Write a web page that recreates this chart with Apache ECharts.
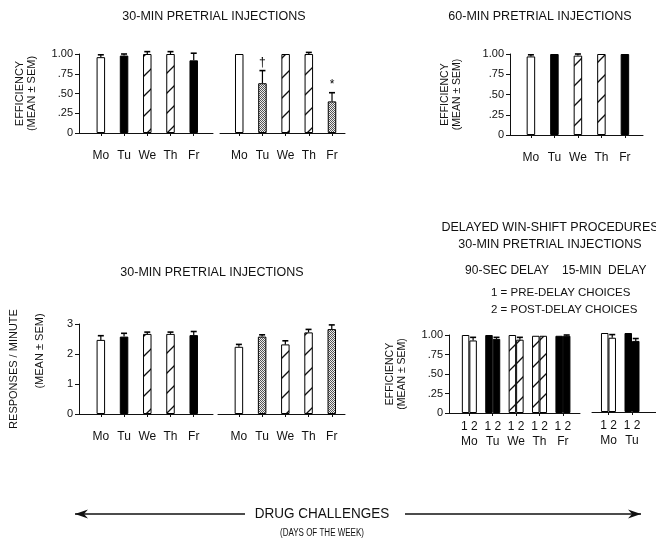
<!DOCTYPE html>
<html><head><meta charset="utf-8">
<script src="https://cdn.jsdelivr.net/npm/echarts@6/dist/echarts.min.js"></script>
<style>html,body{margin:0;padding:0;background:#fff}#c{width:656px;height:543px}</style>
</head><body><div id="c"></div>
<script>
// ---------- data ----------
const days = ['Mo', 'Tu', 'We', 'Th', 'Fr'];
const delayDays = ['Mo', 'Tu'];
const effTickLabels = ['0', '.25', '.50', '.75', '1.00'];
const rateTickLabels = ['0', '1', '2', '3'];

// Panel A (top-left, 30-min, first group)
const effA = [0.96, 0.98, 1.00, 1.00, 0.92];
const errA = [0.03, 0.02, 0.03, 0.03, 0.09];
const fillA = ['white', 'black', 'hatch', 'hatch', 'black'];
// Panel B (top-left, 30-min, second group)
const effB = [1.00, 0.63, 1.00, 1.00, 0.40];
const errB = [0, 0.16, 0, 0.02, 0.11];
const fillB = ['white', 'dots', 'hatch', 'hatch', 'dots'];
const markB = ['', '\u2020', '', '', '*'];
// Panel C (top-right, 60-min)
const effC = [0.97, 1.00, 0.98, 1.00, 1.00];
const errC = [0.02, 0, 0.02, 0, 0];
const fillC = ['white', 'black', 'hatch', 'hatch', 'black'];
// Panel D (bottom-left, responses/min, first group)
const rateD = [2.47, 2.58, 2.67, 2.67, 2.63];
const errD = [0.14, 0.11, 0.06, 0.06, 0.12];
const fillD = ['white', 'black', 'hatch', 'hatch', 'black'];
// Panel E (bottom-left, responses/min, second group)
const rateE = [2.24, 2.58, 2.32, 2.72, 2.83];
const errE = [0.08, 0.06, 0.12, 0.10, 0.14];
const fillE = ['white', 'dots', 'hatch', 'hatch', 'dots'];
// Panel F (90-sec delay): 1 = pre-delay, 2 = post-delay
const preF = [1.00, 1.00, 1.00, 0.99, 0.99];
const postF = [0.93, 0.95, 0.94, 0.99, 0.99];
const postErrF = [0.04, 0.02, 0.03, 0, 0.01];
const fillF = ['white', 'black', 'hatch', 'hatch', 'black'];
// Panel G (15-min delay)
const preG = [1.00, 1.00];
const postG = [0.94, 0.90];
const postErrG = [0.04, 0.03];
const fillG = ['white', 'black'];

// ---------- styles ----------
const FONT = "'Liberation Sans', Arial, Helvetica, sans-serif";
const INK = '#111';

function hatchCanvas() {
  const c = document.createElement('canvas'); c.width = 20; c.height = 20;
  const g = c.getContext('2d');
  g.fillStyle = '#fff'; g.fillRect(0, 0, 20, 20);
  g.strokeStyle = '#111'; g.lineWidth = 1.3;
  g.beginPath(); g.moveTo(-2, 22); g.lineTo(22, -2); g.stroke();
  g.beginPath(); g.moveTo(-2, 2); g.lineTo(2, -2); g.stroke();
  g.beginPath(); g.moveTo(18, 22); g.lineTo(22, 18); g.stroke();
  return c;
}
function dotCanvas() {
  const c = document.createElement('canvas'); c.width = 2; c.height = 2;
  const g = c.getContext('2d');
  g.fillStyle = '#eee'; g.fillRect(0, 0, 2, 2);
  g.fillStyle = '#555'; g.fillRect(0, 0, 1, 1); g.fillRect(1, 1, 1, 1);
  return c;
}
const HATCH = { image: hatchCanvas(), repeat: 'repeat' };
const DOTS = { image: dotCanvas(), repeat: 'repeat' };
function fillOf(name) {
  if (name === 'black') return '#000';
  if (name === 'hatch') return HATCH;
  if (name === 'dots') return DOTS;
  return '#fff';
}

// ---------- layout ----------
const grids = [
  { left: 79, top: 54, width: 134, height: 79 },   // A
  { left: 220, top: 54, width: 125, height: 79 },  // B
  { left: 510, top: 54, width: 133, height: 81 },  // C
  { left: 79, top: 324, width: 134, height: 90 },  // D
  { left: 218, top: 324, width: 127, height: 90 }, // E
  { left: 449, top: 335, width: 131, height: 78 }, // F
  { left: 592, top: 333, width: 64, height: 79 }   // G
];
const xRanges = [[-0.94, 4.83], [-0.83, 4.56], [-0.89, 4.77], [-0.94, 4.83], [-0.9, 4.57], [-0.87, 4.73], [-0.7, 2.02]];

function xAxisFor(i, labels, twoLine) {
  const idx = labels.map((d, k) => k);
  return {
    gridIndex: i, type: 'value', min: xRanges[i][0], max: xRanges[i][1],
    axisLine: { show: true, onZero: false, lineStyle: { color: INK, width: 1 } },
    splitLine: { show: false },
    axisTick: { show: true, customValues: idx, length: 3, lineStyle: { color: INK } },
    axisLabel: {
      show: true, customValues: idx,
      formatter: v => twoLine ? '1 2\n' + labels[Math.round(v)] : labels[Math.round(v)],
      margin: twoLine ? 6 : 16, color: INK, fontSize: 12, fontFamily: FONT,
      lineHeight: twoLine ? 15 : 14
    }
  };
}
function yAxisFor(i, kind, show, name, gap, nameSize) {
  const isEff = kind === 'eff';
  return {
    gridIndex: i, type: 'value', min: 0, max: isEff ? 1 : 3, interval: isEff ? 0.25 : 1,
    show: show,
    axisLine: { show: true, onZero: false, lineStyle: { color: INK, width: 1 } },
    axisTick: { show: true, length: 4, lineStyle: { color: INK } },
    splitLine: { show: false },
    axisLabel: {
      formatter: v => isEff ? effTickLabels[Math.round(v / 0.25)] : rateTickLabels[Math.round(v)],
      margin: 6, color: INK, fontSize: 11, fontFamily: FONT
    },
    name: name || '', nameLocation: 'middle', nameRotate: 90, nameGap: gap || 40,
    nameTextStyle: { color: INK, fontSize: nameSize || 11, fontFamily: FONT, lineHeight: 12 }
  };
}

function barSeries(i, vals, fills, width, gap) {
  return {
    type: 'bar', xAxisIndex: i, yAxisIndex: i, barWidth: width, barGap: gap || '0%',
    data: vals.map((v, k) => ({ value: [k, v], itemStyle: { color: fillOf(fills[k]) } })),
    itemStyle: { borderColor: '#000', borderWidth: 1 },
    silent: true, animation: false, z: 2
  };
}
function errSeries(i, vals, errs, offsetPx, marks) {
  return {
    type: 'custom', xAxisIndex: i, yAxisIndex: i, silent: true, animation: false, z: 10,
    data: vals.map((v, k) => [k, v, errs[k], k]),
    renderItem: (params, api) => {
      const x = api.value(0), v = api.value(1), e = api.value(2);
      const p0 = api.coord([x, v]);
      const p1 = api.coord([x, v + e]);
      const cx = p0[0] + offsetPx;
      const children = [];
      if (e > 0) {
        children.push({ type: 'line', shape: { x1: cx, y1: p0[1], x2: cx, y2: p1[1] }, style: { stroke: '#000', lineWidth: 1.2 } });
        children.push({ type: 'line', shape: { x1: cx - 3, y1: p1[1], x2: cx + 3, y2: p1[1] }, style: { stroke: '#000', lineWidth: 1.6 } });
      }
      const m = marks ? marks[api.value(3)] : '';
      if (m) children.push({ type: 'text', style: { text: m, x: cx, y: p1[1] - 8, textAlign: 'center', textVerticalAlign: 'middle', fontSize: 12, fontFamily: FONT, fill: '#000' } });
      return { type: 'group', children };
    }
  };
}

function txt(text, x, y, size, align, rot, sx) {
  return { type: 'text', x: x, y: y, rotation: rot || 0, scaleX: sx || 1, silent: true,
    style: { text: text, fill: INK, fontSize: size, fontFamily: FONT, textAlign: align || 'center', textVerticalAlign: 'middle' } };
}
function arrowLine(x1, x2, y, dir) {
  const tip = dir < 0 ? x1 : x2;
  const back = tip - dir * 13;
  return [
    { type: 'line', silent: true, shape: { x1: x1, y1: y, x2: x2, y2: y }, style: { stroke: INK, lineWidth: 1.4 } },
    { type: 'polygon', silent: true, shape: { points: [[tip, y], [back, y - 4.5], [back + dir * 4, y], [back, y + 4.5]] }, style: { fill: INK } }
  ];
}

const option = {
  backgroundColor: '#fff',
  animation: false,
  grid: grids.map(g => Object.assign({ containLabel: false }, g)),
  xAxis: [
    xAxisFor(0, days), xAxisFor(1, days), xAxisFor(2, days),
    xAxisFor(3, days), xAxisFor(4, days), xAxisFor(5, days, true), xAxisFor(6, delayDays, true)
  ],
  yAxis: [
    yAxisFor(0, 'eff', true, 'EFFICIENCY\n(MEAN \u00b1 SEM)', 41, 11),
    yAxisFor(1, 'eff', false),
    yAxisFor(2, 'eff', true, 'EFFICIENCY\n(MEAN \u00b1 SEM)', 47, 10.5),
    yAxisFor(3, 'rate', true, 'RESPONSES / MINUTE', 59, 11),
    yAxisFor(4, 'rate', false),
    yAxisFor(5, 'eff', true, 'EFFICIENCY\n(MEAN \u00b1 SEM)', 41, 10.5),
    yAxisFor(6, 'eff', false)
  ],
  series: [
    barSeries(0, effA, fillA, 8.5), errSeries(0, effA, errA, 0),
    barSeries(1, effB, fillB, 8.5), errSeries(1, effB, errB, 0, markB),
    barSeries(2, effC, fillC, 8.5), errSeries(2, effC, errC, 0),
    barSeries(3, rateD, fillD, 8.5), errSeries(3, rateD, errD, 0),
    barSeries(4, rateE, fillE, 8.5), errSeries(4, rateE, errE, 0),
    barSeries(5, preF, fillF, 7.5), barSeries(5, postF, fillF, 7.5), errSeries(5, postF, postErrF, 3.75),
    barSeries(6, preG, fillG, 7.5), barSeries(6, postG, fillG, 7.5), errSeries(6, postG, postErrG, 3.75)
  ],
  graphic: [
    txt('30-MIN PRETRIAL INJECTIONS', 214, 17, 12.5),
    txt('60-MIN PRETRIAL INJECTIONS', 540, 17, 12.5),
    txt('30-MIN PRETRIAL INJECTIONS', 212, 273, 12.5),
    txt('DELAYED WIN-SHIFT PROCEDURES', 550, 228, 12.5),
    txt('30-MIN PRETRIAL INJECTIONS', 550, 245, 12.5),
    txt('90-SEC DELAY', 507, 271, 12),
    txt('15-MIN  DELAY', 562, 271, 12, 'left'),
    txt('1 = PRE-DELAY CHOICES', 491, 293, 11.5, 'left'),
    txt('2 = POST-DELAY CHOICES', 491, 310, 11.5, 'left'),
    txt('(MEAN \u00b1 SEM)', 40, 351, 11, 'center', Math.PI / 2),
    txt('DRUG CHALLENGES', 322, 514, 15, 'center', 0, 0.9),
    txt('(DAYS OF THE WEEK)', 322, 533, 10, 'center', 0, 0.8)
  ].concat(arrowLine(75, 245, 514, -1), arrowLine(405, 641, 514, 1))
};

const chart = echarts.init(document.getElementById('c'), null, { renderer: 'canvas' });
chart.setOption(option);
</script>
</body></html>
